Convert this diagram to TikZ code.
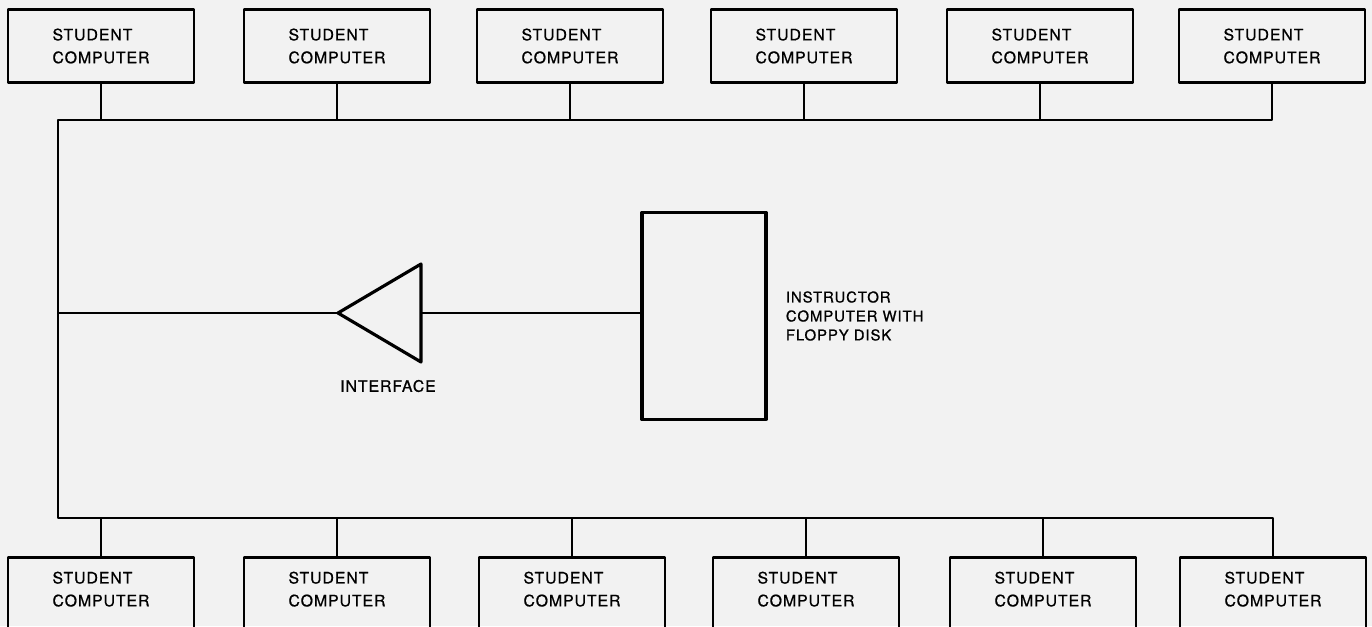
\documentclass[tikz,border=0pt]{standalone}
\usepackage{fontspec}
\setmainfont{TeX Gyre Heros}[LetterSpace=6,FakeBold=0.8]
\usetikzlibrary{positioning}
\tikzset{
  every picture/.style={font=\fontsize{9}{13}\selectfont, line join=round, line cap=round},
  compbox/.style={draw, line width=1.2pt, minimum width=3.72cm, minimum height=1.46cm, align=left},
  instrbox/.style={draw, line width=1.8pt, minimum width=2.48cm, minimum height=4.14cm},
  bus/.style={line width=1.1pt},
}

\begin{document}
\begin{tikzpicture}[x=0.02cm,y=-0.02cm]
\clip (0,0) rectangle (1372,626);
\fill[black!5] (0,0) rectangle (1372,626);
% student computers
\foreach \n/\x in {1/101,2/337,3/570,4/804,5/1040,6/1272}
  \node[compbox] (t\n) at (\x,46) {STUDENT\\COMPUTER};
\foreach \n/\x in {1/101,2/337,3/572,4/806,5/1043,6/1273}
  \node[compbox, text depth=0.2cm] (b\n) at (\x,594) {STUDENT\\COMPUTER};
% bus
\coordinate (tl) at (58,120);
\coordinate (bl) at (58,518);
\coordinate (tap) at (58,313);
\draw[bus] (t6.south) |- (tl) -- (bl) -| (b6.north);
\foreach \n in {1,...,5} {
  \draw[bus] (t\n.south) -- (t\n.south |- tl);
  \draw[bus] (b\n.north) -- (b\n.north |- bl);
}
% interface
\coordinate (ifin) at (338,313);
\coordinate (ifout) at (421,313);
\draw[line width=1.8pt] (ifin) -- (421,264) -- (421,362) -- cycle;
\node (iflabel) at (388,386) {INTERFACE};
% instructor
\node[instrbox] (instr) at (704,316) {};
\node[right=0.36cm of instr, inner sep=0pt, align=left, font=\fontsize{8.5}{10.8}\selectfont] (instrlabel) {INSTRUCTOR\\COMPUTER WITH\\FLOPPY DISK};
\draw[bus] (tap) -- (ifin);
\draw[bus] (ifout) -- (instr.west |- ifout);
\end{tikzpicture}
\end{document}
